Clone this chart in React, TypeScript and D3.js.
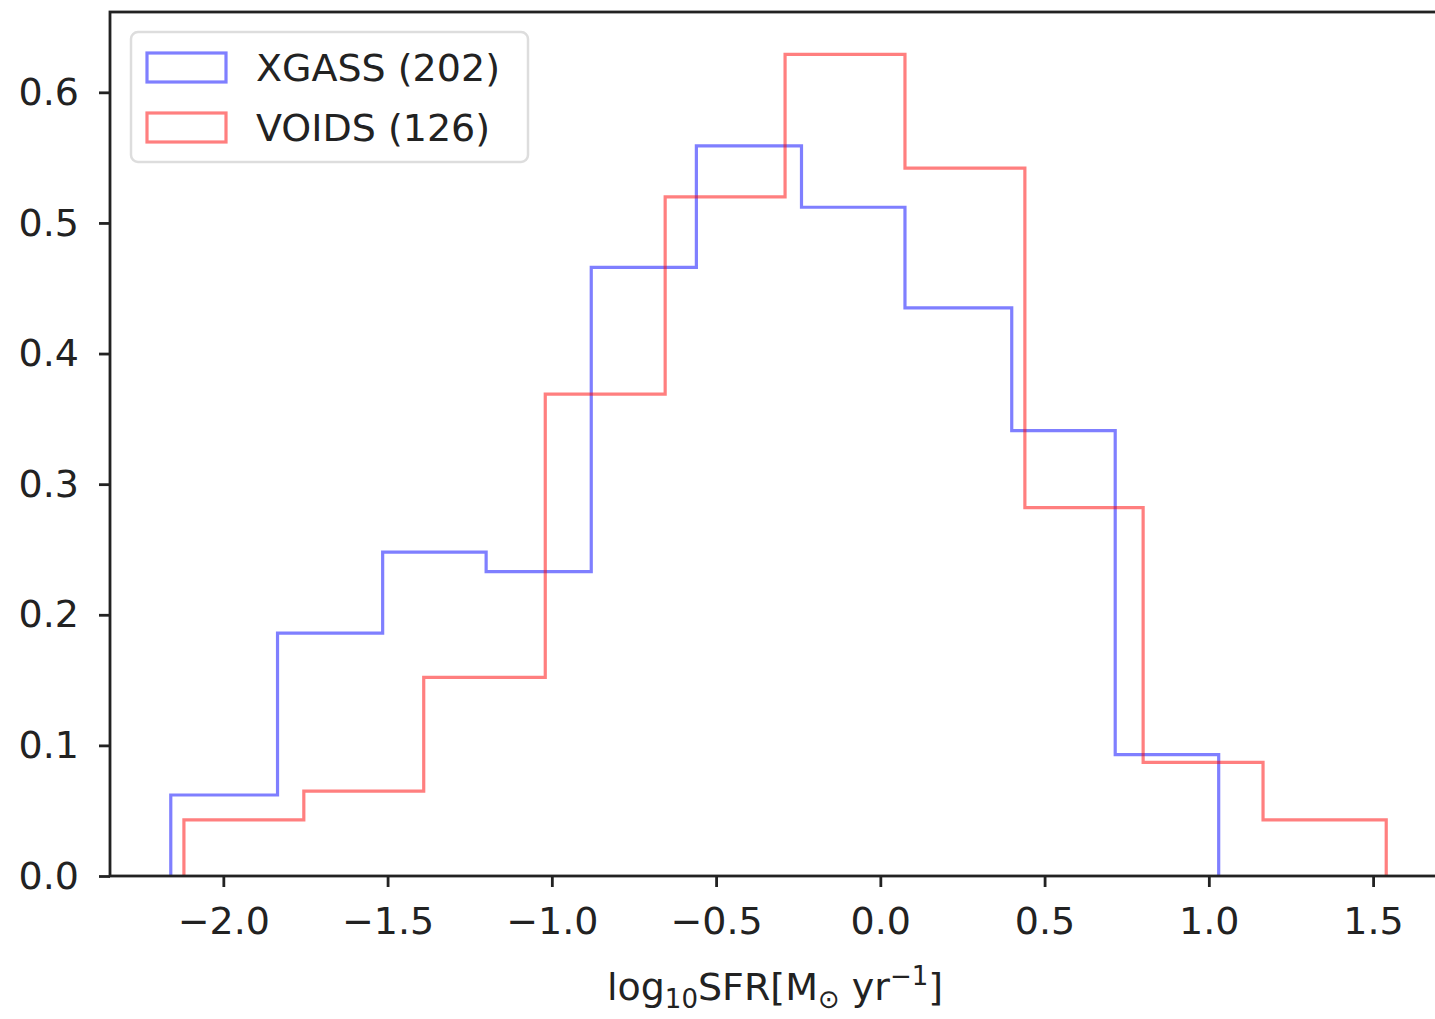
import React, { useEffect, useRef } from 'react';
import * as d3 from 'd3';

// bin edges and density heights
const xgassEdges = [-2.16, -1.835, -1.515, -1.2, -0.88, -0.56, -0.24, 0.075, 0.4, 0.715, 1.03];
const xgassValues = [0.062, 0.186, 0.248, 0.233, 0.466, 0.559, 0.512, 0.435, 0.341, 0.093];
const voidsEdges = [-2.12, -1.755, -1.39, -1.02, -0.655, -0.29, 0.075, 0.44, 0.8, 1.165, 1.54];
const voidsValues = [0.043, 0.065, 0.152, 0.369, 0.52, 0.629, 0.542, 0.282, 0.087, 0.043];

const xTicks = [-2.0, -1.5, -1.0, -0.5, 0.0, 0.5, 1.0, 1.5];
const yTicks = [0.0, 0.1, 0.2, 0.3, 0.4, 0.5, 0.6];

const seriesNames = ['XGASS (202)', 'VOIDS (126)'];
const seriesColors = ['rgba(0,0,255,0.5)', 'rgba(255,0,0,0.5)'];

export default function App() {
  const svgRef = useRef<SVGSVGElement>(null);
  const width = 1435;
  const height = 1019;
  const margin = { top: 12, right: -12, bottom: 143, left: 110 };

  useEffect(() => {
    const svg = d3.select(svgRef.current);
    svg.selectAll('*').remove();
    svg.attr('width', width).attr('height', height);

    const font = 'DejaVu Sans, sans-serif';
    const fs = 38;
    const x = d3.scaleLinear().domain([-2.345, 1.725]).range([margin.left, width - margin.right]);
    const y = d3.scaleLinear().domain([0, 0.6615]).range([height - margin.bottom, margin.top]);

    // histogram steps
    const steps = (edges: number[], vals: number[]) => {
      const pts: [number, number][] = [[edges[0], 0]];
      vals.forEach((v, i) => {
        pts.push([edges[i], v]);
        pts.push([edges[i + 1], v]);
      });
      pts.push([edges[edges.length - 1], 0]);
      return pts;
    };
    const line = d3
      .line<[number, number]>()
      .x((d) => x(d[0]))
      .y((d) => y(d[1]));

    [
      [xgassEdges, xgassValues],
      [voidsEdges, voidsValues],
    ].forEach(([e, v], i) => {
      svg
        .append('path')
        .attr('d', line(steps(e, v)))
        .attr('fill', 'none')
        .attr('stroke', seriesColors[i])
        .attr('stroke-width', 3.2)
        .attr('stroke-linejoin', 'miter');
    });

    // axes
    const xAxis = svg
      .append('g')
      .attr('transform', `translate(0,${height - margin.bottom})`)
      .call(d3.axisBottom(x).tickValues(xTicks).tickSize(11).tickPadding(20).tickFormat((d) => d3.format('.1f')(d as number).replace('-', '\u2212')));
    const yAxis = svg
      .append('g')
      .attr('transform', `translate(${margin.left},0)`)
      .call(d3.axisLeft(y).tickValues(yTicks).tickSize(11).tickPadding(20).tickFormat(d3.format('.1f')));
    [xAxis, yAxis].forEach((g) => {
      g.select('.domain').remove();
      g.selectAll('line').attr('stroke', '#222').attr('stroke-width', 2.8);
      g.selectAll('text').attr('font-family', font).attr('font-size', fs).attr('fill', '#222');
    });

    // spines
    svg
      .append('rect')
      .attr('x', margin.left)
      .attr('y', margin.top)
      .attr('width', width - margin.right - margin.left)
      .attr('height', height - margin.bottom - margin.top)
      .attr('fill', 'none')
      .attr('stroke', '#222')
      .attr('stroke-width', 2.8);

    // x label
    const lab = svg
      .append('text')
      .attr('x', 775)
      .attr('y', 1000)
      .attr('text-anchor', 'middle')
      .attr('font-family', font)
      .attr('font-size', fs)
      .attr('fill', '#222');
    lab.append('tspan').text('log');
    lab.append('tspan').attr('font-size', 26).attr('dy', 8).text('10');
    lab.append('tspan').attr('dy', -8).text('SFR[M');
    lab.append('tspan').attr('font-size', 26).attr('dy', 8).text('\u2299');
    lab.append('tspan').attr('dy', -8).text(' yr');
    lab.append('tspan').attr('font-size', 26).attr('dy', -15).text('\u22121');
    lab.append('tspan').attr('dy', 15).text(']');

    // legend
    const lg = svg.append('g');
    lg.append('rect')
      .attr('x', 131)
      .attr('y', 32)
      .attr('width', 397)
      .attr('height', 130)
      .attr('rx', 7)
      .attr('fill', 'white')
      .attr('fill-opacity', 0.8)
      .attr('stroke', '#ddd')
      .attr('stroke-width', 2.5);
    seriesNames.forEach((name, i) => {
      lg.append('rect')
        .attr('x', 147)
        .attr('y', 53 + i * 60)
        .attr('width', 79)
        .attr('height', 29)
        .attr('fill', 'none')
        .attr('stroke', seriesColors[i])
        .attr('stroke-width', 3.2);
      lg.append('text')
        .attr('x', 256)
        .attr('y', 81 + i * 60)
        .attr('font-family', font)
        .attr('font-size', fs)
        .attr('fill', '#222')
        .text(name);
    });
  }, []);

  return <svg ref={svgRef} style={{ position: 'absolute', left: 0, top: 0 }}></svg>;
}
